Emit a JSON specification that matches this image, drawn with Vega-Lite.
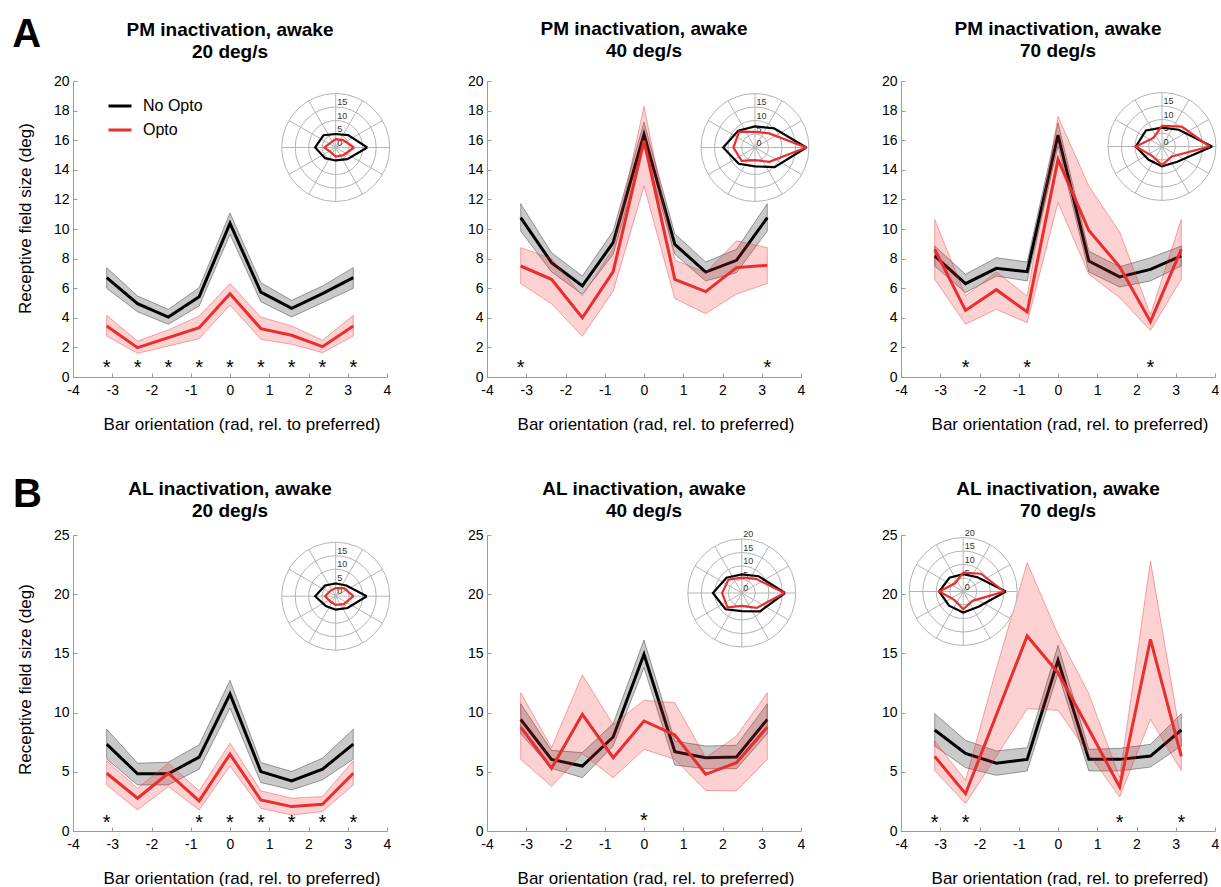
{
"$schema": "https://vega.github.io/schema/vega-lite/v6.json",
"padding": {"left": 12, "top": 14, "right": 0, "bottom": 0},
"background": "white",
"config": {
  "font": "Liberation Sans",
  "view": {"stroke": null},
  "axis": {"grid": false, "domainColor": "#9a9a9a", "domainWidth": 1, "tickColor": "#9a9a9a", "tickSize": -4, "tickWidth": 1, "labelFontSize": 14, "labelColor": "#000000", "titleFontSize": 17, "titleFontWeight": "normal", "titleColor": "#000000", "labelFont": "Liberation Sans", "titleFont": "Liberation Sans", "labelOverlap": false, "labelFlush": false},
  "title": {"fontSize": 19, "fontWeight": "bold", "font": "Liberation Sans", "color": "#000000", "offset": 13, "lineHeight": 22, "frame": "group"}
},
"datasets": {
  "curves": [
    {"p":"A1","c":"No Opto","x":-3.1416,"m":6.71,"lo":5.99,"hi":7.39},
    {"p":"A1","c":"No Opto","x":-2.3562,"m":4.95,"lo":4.41,"hi":5.47},
    {"p":"A1","c":"No Opto","x":-1.5708,"m":4.05,"lo":3.56,"hi":4.57},
    {"p":"A1","c":"No Opto","x":-0.7854,"m":5.43,"lo":4.80,"hi":6.04},
    {"p":"A1","c":"No Opto","x":0,"m":10.38,"lo":9.64,"hi":11.08},
    {"p":"A1","c":"No Opto","x":0.7854,"m":5.74,"lo":5.09,"hi":6.37},
    {"p":"A1","c":"No Opto","x":1.5708,"m":4.64,"lo":4.05,"hi":5.18},
    {"p":"A1","c":"No Opto","x":2.3562,"m":5.63,"lo":5.02,"hi":6.15},
    {"p":"A1","c":"No Opto","x":3.1416,"m":6.71,"lo":5.99,"hi":7.39},
    {"p":"A1","c":"Opto","x":-3.1416,"m":3.45,"lo":2.77,"hi":4.17},
    {"p":"A1","c":"Opto","x":-2.3562,"m":1.98,"lo":1.60,"hi":2.43},
    {"p":"A1","c":"Opto","x":-1.5708,"m":2.66,"lo":2.09,"hi":3.18},
    {"p":"A1","c":"Opto","x":-0.7854,"m":3.33,"lo":2.59,"hi":4.12},
    {"p":"A1","c":"Opto","x":0,"m":5.63,"lo":4.86,"hi":6.31},
    {"p":"A1","c":"Opto","x":0.7854,"m":3.27,"lo":2.55,"hi":4.05},
    {"p":"A1","c":"Opto","x":1.5708,"m":2.82,"lo":2.21,"hi":3.45},
    {"p":"A1","c":"Opto","x":2.3562,"m":2.05,"lo":1.64,"hi":2.48},
    {"p":"A1","c":"Opto","x":3.1416,"m":3.45,"lo":2.77,"hi":4.17},
    {"p":"A2","c":"No Opto","x":-3.1416,"m":10.77,"lo":9.86,"hi":11.71},
    {"p":"A2","c":"No Opto","x":-2.3562,"m":7.73,"lo":7.1,"hi":8.4},
    {"p":"A2","c":"No Opto","x":-1.5708,"m":6.15,"lo":5.59,"hi":6.82},
    {"p":"A2","c":"No Opto","x":-0.7854,"m":9.08,"lo":8.29,"hi":9.86},
    {"p":"A2","c":"No Opto","x":0,"m":16.4,"lo":15.6,"hi":17.23},
    {"p":"A2","c":"No Opto","x":0.7854,"m":8.96,"lo":8.29,"hi":9.68},
    {"p":"A2","c":"No Opto","x":1.5708,"m":7.09,"lo":6.49,"hi":7.77},
    {"p":"A2","c":"No Opto","x":2.3562,"m":7.88,"lo":7.05,"hi":8.63},
    {"p":"A2","c":"No Opto","x":3.1416,"m":10.77,"lo":9.86,"hi":11.71},
    {"p":"A2","c":"Opto","x":-3.1416,"m":7.5,"lo":6.31,"hi":8.74},
    {"p":"A2","c":"Opto","x":-2.3562,"m":6.6,"lo":4.95,"hi":8.0},
    {"p":"A2","c":"Opto","x":-1.5708,"m":4.0,"lo":2.75,"hi":5.47},
    {"p":"A2","c":"Opto","x":-0.7854,"m":7.12,"lo":5.8,"hi":8.7},
    {"p":"A2","c":"Opto","x":0,"m":15.95,"lo":12.9,"hi":18.3},
    {"p":"A2","c":"Opto","x":0.7854,"m":6.6,"lo":5.3,"hi":7.9},
    {"p":"A2","c":"Opto","x":1.5708,"m":5.77,"lo":4.28,"hi":7.05},
    {"p":"A2","c":"Opto","x":2.3562,"m":7.39,"lo":5.6,"hi":9.2},
    {"p":"A2","c":"Opto","x":3.1416,"m":7.55,"lo":6.31,"hi":8.74},
    {"p":"A3","c":"No Opto","x":-3.1416,"m":8.18,"lo":7.5,"hi":8.85},
    {"p":"A3","c":"No Opto","x":-2.3562,"m":6.31,"lo":5.7,"hi":6.94},
    {"p":"A3","c":"No Opto","x":-1.5708,"m":7.34,"lo":6.82,"hi":8.06},
    {"p":"A3","c":"No Opto","x":-0.7854,"m":7.12,"lo":6.49,"hi":7.77},
    {"p":"A3","c":"No Opto","x":0,"m":16.35,"lo":15.6,"hi":17.18},
    {"p":"A3","c":"No Opto","x":0.7854,"m":7.84,"lo":7.1,"hi":8.5},
    {"p":"A3","c":"No Opto","x":1.5708,"m":6.76,"lo":6.08,"hi":7.45},
    {"p":"A3","c":"No Opto","x":2.3562,"m":7.27,"lo":6.49,"hi":8.06},
    {"p":"A3","c":"No Opto","x":3.1416,"m":8.18,"lo":7.5,"hi":8.85},
    {"p":"A3","c":"Opto","x":-3.1416,"m":8.63,"lo":6.6,"hi":10.65},
    {"p":"A3","c":"Opto","x":-2.3562,"m":4.5,"lo":3.56,"hi":5.47},
    {"p":"A3","c":"Opto","x":-1.5708,"m":5.9,"lo":4.57,"hi":7.1},
    {"p":"A3","c":"Opto","x":-0.7854,"m":4.39,"lo":3.67,"hi":5.47},
    {"p":"A3","c":"Opto","x":0,"m":14.7,"lo":11.8,"hi":17.6},
    {"p":"A3","c":"Opto","x":0.7854,"m":9.9,"lo":6.94,"hi":12.9},
    {"p":"A3","c":"Opto","x":1.5708,"m":7.45,"lo":5.36,"hi":9.8},
    {"p":"A3","c":"Opto","x":2.3562,"m":3.74,"lo":3.15,"hi":4.23},
    {"p":"A3","c":"Opto","x":3.1416,"m":8.63,"lo":6.6,"hi":10.65},
    {"p":"B1","c":"No Opto","x":-3.1416,"m":7.34,"lo":6.07,"hi":8.6},
    {"p":"B1","c":"No Opto","x":-2.3562,"m":4.83,"lo":3.89,"hi":5.73},
    {"p":"B1","c":"No Opto","x":-1.5708,"m":4.83,"lo":3.89,"hi":5.81},
    {"p":"B1","c":"No Opto","x":-0.7854,"m":6.24,"lo":5.22,"hi":7.28},
    {"p":"B1","c":"No Opto","x":0,"m":11.57,"lo":10.38,"hi":12.73},
    {"p":"B1","c":"No Opto","x":0.7854,"m":5.02,"lo":4.09,"hi":5.78},
    {"p":"B1","c":"No Opto","x":1.5708,"m":4.23,"lo":3.47,"hi":5.02},
    {"p":"B1","c":"No Opto","x":2.3562,"m":5.22,"lo":4.32,"hi":6.15},
    {"p":"B1","c":"No Opto","x":3.1416,"m":7.34,"lo":6.07,"hi":8.6},
    {"p":"B1","c":"Opto","x":-3.1416,"m":4.88,"lo":3.89,"hi":5.93},
    {"p":"B1","c":"Opto","x":-2.3562,"m":2.77,"lo":1.78,"hi":3.61},
    {"p":"B1","c":"Opto","x":-1.5708,"m":4.88,"lo":3.75,"hi":5.73},
    {"p":"B1","c":"Opto","x":-0.7854,"m":2.54,"lo":1.78,"hi":3.39},
    {"p":"B1","c":"Opto","x":0,"m":6.49,"lo":5.5,"hi":7.42},
    {"p":"B1","c":"Opto","x":0.7854,"m":2.62,"lo":1.92,"hi":3.39},
    {"p":"B1","c":"Opto","x":1.5708,"m":2.06,"lo":1.35,"hi":2.77},
    {"p":"B1","c":"Opto","x":2.3562,"m":2.26,"lo":1.64,"hi":2.91},
    {"p":"B1","c":"Opto","x":3.1416,"m":4.88,"lo":3.89,"hi":5.93},
    {"p":"B2","c":"No Opto","x":-3.1416,"m":9.43,"lo":8.22,"hi":10.75},
    {"p":"B2","c":"No Opto","x":-2.3562,"m":6.05,"lo":5.29,"hi":6.81},
    {"p":"B2","c":"No Opto","x":-1.5708,"m":5.49,"lo":4.5,"hi":6.62},
    {"p":"B2","c":"No Opto","x":-0.7854,"m":7.94,"lo":7.18,"hi":9.07},
    {"p":"B2","c":"No Opto","x":0,"m":14.92,"lo":13.8,"hi":16.13},
    {"p":"B2","c":"No Opto","x":0.7854,"m":6.7,"lo":5.57,"hi":7.6},
    {"p":"B2","c":"No Opto","x":1.5708,"m":6.19,"lo":5.26,"hi":7.18},
    {"p":"B2","c":"No Opto","x":2.3562,"m":6.25,"lo":5.26,"hi":7.24},
    {"p":"B2","c":"No Opto","x":3.1416,"m":9.43,"lo":8.22,"hi":10.75},
    {"p":"B2","c":"Opto","x":-3.1416,"m":8.78,"lo":6.05,"hi":11.68},
    {"p":"B2","c":"Opto","x":-2.3562,"m":5.29,"lo":3.77,"hi":7.04},
    {"p":"B2","c":"Opto","x":-1.5708,"m":9.85,"lo":6.53,"hi":13.18},
    {"p":"B2","c":"Opto","x":-0.7854,"m":6.19,"lo":4.5,"hi":9.0},
    {"p":"B2","c":"Opto","x":0,"m":9.29,"lo":6.9,"hi":11.04},
    {"p":"B2","c":"Opto","x":0.7854,"m":8.11,"lo":6.05,"hi":10.84},
    {"p":"B2","c":"Opto","x":1.5708,"m":4.79,"lo":3.43,"hi":6.19},
    {"p":"B2","c":"Opto","x":2.3562,"m":5.77,"lo":3.38,"hi":8.02},
    {"p":"B2","c":"Opto","x":3.1416,"m":8.78,"lo":6.05,"hi":11.68},
    {"p":"B3","c":"No Opto","x":-3.1416,"m":8.53,"lo":7.18,"hi":9.91},
    {"p":"B3","c":"No Opto","x":-2.3562,"m":6.56,"lo":5.35,"hi":7.66},
    {"p":"B3","c":"No Opto","x":-1.5708,"m":5.72,"lo":4.7,"hi":6.76},
    {"p":"B3","c":"No Opto","x":-0.7854,"m":6.05,"lo":5.07,"hi":7.04},
    {"p":"B3","c":"No Opto","x":0,"m":14.41,"lo":13.32,"hi":15.68},
    {"p":"B3","c":"No Opto","x":0.7854,"m":6.05,"lo":5.07,"hi":6.9},
    {"p":"B3","c":"No Opto","x":1.5708,"m":6.05,"lo":5.07,"hi":6.98},
    {"p":"B3","c":"No Opto","x":2.3562,"m":6.33,"lo":5.4,"hi":7.32},
    {"p":"B3","c":"No Opto","x":3.1416,"m":8.53,"lo":7.18,"hi":9.91},
    {"p":"B3","c":"Opto","x":-3.1416,"m":6.3,"lo":5.1,"hi":7.6},
    {"p":"B3","c":"Opto","x":-2.3562,"m":3.15,"lo":2.31,"hi":4.28},
    {"p":"B3","c":"Opto","x":-1.5708,"m":9.8,"lo":6.3,"hi":13.7},
    {"p":"B3","c":"Opto","x":-0.7854,"m":16.47,"lo":10.33,"hi":22.66},
    {"p":"B3","c":"Opto","x":0,"m":13.37,"lo":10.19,"hi":16.6},
    {"p":"B3","c":"Opto","x":0.7854,"m":8.6,"lo":6.5,"hi":11.6},
    {"p":"B3","c":"Opto","x":1.5708,"m":3.72,"lo":2.87,"hi":4.5},
    {"p":"B3","c":"Opto","x":2.3562,"m":16.19,"lo":9.43,"hi":22.8},
    {"p":"B3","c":"Opto","x":3.1416,"m":6.3,"lo":5.1,"hi":7.6}
  ],
  "stars": [
    {"p":"A1","x":-3.1416},{"p":"A1","x":-2.3562},{"p":"A1","x":-1.5708},{"p":"A1","x":-0.7854},{"p":"A1","x":0},{"p":"A1","x":0.7854},{"p":"A1","x":1.5708},{"p":"A1","x":2.3562},{"p":"A1","x":3.1416},
    {"p":"A2","x":-3.1416},{"p":"A2","x":3.1416},
    {"p":"A3","x":-2.3562},{"p":"A3","x":-0.7854},{"p":"A3","x":2.3562},
    {"p":"B1","x":-3.1416},{"p":"B1","x":-0.7854},{"p":"B1","x":0},{"p":"B1","x":0.7854},{"p":"B1","x":1.5708},{"p":"B1","x":2.3562},{"p":"B1","x":3.1416},
    {"p":"B2","x":0},
    {"p":"B3","x":-3.1416},{"p":"B3","x":-2.3562},{"p":"B3","x":1.5708},{"p":"B3","x":3.1416}
  ],
  "rings": [{"r":20},{"r":15},{"r":10},{"r":5}],
  "spokes": [
    {"x":20,"y":0,"x2":-20,"y2":0},
    {"x":17.32,"y":10,"x2":-17.32,"y2":-10},
    {"x":10,"y":17.32,"x2":-10,"y2":-17.32},
    {"x":0,"y":20,"x2":0,"y2":-20},
    {"x":-10,"y":17.32,"x2":10,"y2":-17.32},
    {"x":-17.32,"y":10,"x2":17.32,"y2":-10}
  ],
  "ringlabels": [{"t":"0","r":0},{"t":"5","r":5},{"t":"10","r":10},{"t":"15","r":15},{"t":"20","r":20}],
  "tags": [{"p":"A1","t":"A"},{"p":"B1","t":"B"}],
  "poly": [
    {"p":"A1","c":"No Opto","k":0,"x":11.7,"y":0},{"p":"A1","c":"No Opto","k":1,"x":4.6,"y":4.6},{"p":"A1","c":"No Opto","k":2,"x":0,"y":5.0},{"p":"A1","c":"No Opto","k":3,"x":-4.53,"y":4.53},{"p":"A1","c":"No Opto","k":4,"x":-7.6,"y":0},{"p":"A1","c":"No Opto","k":5,"x":-3.96,"y":-3.96},{"p":"A1","c":"No Opto","k":6,"x":0,"y":-4.8},{"p":"A1","c":"No Opto","k":7,"x":4.31,"y":-4.31},{"p":"A1","c":"No Opto","k":8,"x":11.7,"y":0},
    {"p":"A1","c":"Opto","k":0,"x":6.8,"y":0},{"p":"A1","c":"Opto","k":1,"x":2.76,"y":2.76},{"p":"A1","c":"Opto","k":2,"x":0,"y":3.1},{"p":"A1","c":"Opto","k":3,"x":-1.84,"y":1.84},{"p":"A1","c":"Opto","k":4,"x":-4.2,"y":0},{"p":"A1","c":"Opto","k":5,"x":-1.77,"y":-1.77},{"p":"A1","c":"Opto","k":6,"x":0,"y":-3.4},{"p":"A1","c":"Opto","k":7,"x":2.83,"y":-2.83},{"p":"A1","c":"Opto","k":8,"x":6.8,"y":0},
    {"p":"A2","c":"No Opto","k":0,"x":19,"y":0},{"p":"A2","c":"No Opto","k":1,"x":7.07,"y":7.07},{"p":"A2","c":"No Opto","k":2,"x":0,"y":7.8},{"p":"A2","c":"No Opto","k":3,"x":-6.22,"y":6.22},{"p":"A2","c":"No Opto","k":4,"x":-11.8,"y":0},{"p":"A2","c":"No Opto","k":5,"x":-6.01,"y":-6.01},{"p":"A2","c":"No Opto","k":6,"x":0,"y":-7.0},{"p":"A2","c":"No Opto","k":7,"x":7.28,"y":-7.28},{"p":"A2","c":"No Opto","k":8,"x":19,"y":0},
    {"p":"A2","c":"Opto","k":0,"x":19,"y":0},{"p":"A2","c":"Opto","k":1,"x":5.23,"y":5.23},{"p":"A2","c":"Opto","k":2,"x":0,"y":5.8},{"p":"A2","c":"Opto","k":3,"x":-5.87,"y":5.87},{"p":"A2","c":"Opto","k":4,"x":-8.0,"y":0},{"p":"A2","c":"Opto","k":5,"x":-4.95,"y":-4.95},{"p":"A2","c":"Opto","k":6,"x":0,"y":-4.7},{"p":"A2","c":"Opto","k":7,"x":5.3,"y":-5.3},{"p":"A2","c":"Opto","k":8,"x":19,"y":0},
    {"p":"A3","c":"No Opto","k":0,"x":18.6,"y":0},{"p":"A3","c":"No Opto","k":1,"x":6.22,"y":6.22},{"p":"A3","c":"No Opto","k":2,"x":0,"y":7.0},{"p":"A3","c":"No Opto","k":3,"x":-5.94,"y":5.94},{"p":"A3","c":"No Opto","k":4,"x":-9.7,"y":0},{"p":"A3","c":"No Opto","k":5,"x":-4.95,"y":-4.95},{"p":"A3","c":"No Opto","k":6,"x":0,"y":-7.3},{"p":"A3","c":"No Opto","k":7,"x":5.66,"y":-5.66},{"p":"A3","c":"No Opto","k":8,"x":18.6,"y":0},
    {"p":"A3","c":"Opto","k":0,"x":17.6,"y":0},{"p":"A3","c":"Opto","k":1,"x":7.35,"y":7.35},{"p":"A3","c":"Opto","k":2,"x":0,"y":7.6},{"p":"A3","c":"Opto","k":3,"x":-3.18,"y":3.18},{"p":"A3","c":"Opto","k":4,"x":-9.7,"y":0},{"p":"A3","c":"Opto","k":5,"x":-3.54,"y":-3.54},{"p":"A3","c":"Opto","k":6,"x":0,"y":-6.9},{"p":"A3","c":"Opto","k":7,"x":3.68,"y":-3.68},{"p":"A3","c":"Opto","k":8,"x":17.6,"y":0},
    {"p":"B1","c":"No Opto","k":0,"x":11.5,"y":0},{"p":"B1","c":"No Opto","k":1,"x":3.96,"y":3.96},{"p":"B1","c":"No Opto","k":2,"x":0,"y":4.7},{"p":"B1","c":"No Opto","k":3,"x":-3.96,"y":3.96},{"p":"B1","c":"No Opto","k":4,"x":-7.6,"y":0},{"p":"B1","c":"No Opto","k":5,"x":-3.68,"y":-3.68},{"p":"B1","c":"No Opto","k":6,"x":0,"y":-5.0},{"p":"B1","c":"No Opto","k":7,"x":4.38,"y":-4.38},{"p":"B1","c":"No Opto","k":8,"x":11.5,"y":0},
    {"p":"B1","c":"Opto","k":0,"x":6.6,"y":0},{"p":"B1","c":"Opto","k":1,"x":2.97,"y":2.97},{"p":"B1","c":"Opto","k":2,"x":0,"y":3.0},{"p":"B1","c":"Opto","k":3,"x":-1.98,"y":1.98},{"p":"B1","c":"Opto","k":4,"x":-3.9,"y":0},{"p":"B1","c":"Opto","k":5,"x":-1.98,"y":-1.98},{"p":"B1","c":"Opto","k":6,"x":0,"y":-3.2},{"p":"B1","c":"Opto","k":7,"x":2.97,"y":-2.97},{"p":"B1","c":"Opto","k":8,"x":6.6,"y":0},
    {"p":"B2","c":"No Opto","k":0,"x":16,"y":0},{"p":"B2","c":"No Opto","k":1,"x":6.22,"y":6.22},{"p":"B2","c":"No Opto","k":2,"x":0,"y":6.9},{"p":"B2","c":"No Opto","k":3,"x":-5.66,"y":5.66},{"p":"B2","c":"No Opto","k":4,"x":-10.7,"y":0},{"p":"B2","c":"No Opto","k":5,"x":-6.01,"y":-6.01},{"p":"B2","c":"No Opto","k":6,"x":0,"y":-6.7},{"p":"B2","c":"No Opto","k":7,"x":6.79,"y":-6.79},{"p":"B2","c":"No Opto","k":8,"x":16,"y":0},
    {"p":"B2","c":"Opto","k":0,"x":15.8,"y":0},{"p":"B2","c":"Opto","k":1,"x":5.23,"y":5.23},{"p":"B2","c":"Opto","k":2,"x":0,"y":5.7},{"p":"B2","c":"Opto","k":3,"x":-4.95,"y":4.95},{"p":"B2","c":"Opto","k":4,"x":-7.3,"y":0},{"p":"B2","c":"Opto","k":5,"x":-5.3,"y":-5.3},{"p":"B2","c":"Opto","k":6,"x":0,"y":-4.8},{"p":"B2","c":"Opto","k":7,"x":5.52,"y":-5.52},{"p":"B2","c":"Opto","k":8,"x":15.8,"y":0},
    {"p":"B3","c":"No Opto","k":0,"x":15.8,"y":0},{"p":"B3","c":"No Opto","k":1,"x":5.3,"y":5.3},{"p":"B3","c":"No Opto","k":2,"x":0,"y":6.4},{"p":"B3","c":"No Opto","k":3,"x":-5.09,"y":5.09},{"p":"B3","c":"No Opto","k":4,"x":-8.9,"y":0},{"p":"B3","c":"No Opto","k":5,"x":-5.23,"y":-5.23},{"p":"B3","c":"No Opto","k":6,"x":0,"y":-7.8},{"p":"B3","c":"No Opto","k":7,"x":5.66,"y":-5.66},{"p":"B3","c":"No Opto","k":8,"x":15.8,"y":0},
    {"p":"B3","c":"Opto","k":0,"x":15.2,"y":0},{"p":"B3","c":"Opto","k":1,"x":6.58,"y":6.58},{"p":"B3","c":"Opto","k":2,"x":0,"y":7.0},{"p":"B3","c":"Opto","k":3,"x":-3.04,"y":3.04},{"p":"B3","c":"Opto","k":4,"x":-8.8,"y":0},{"p":"B3","c":"Opto","k":5,"x":-3.18,"y":-3.18},{"p":"B3","c":"Opto","k":6,"x":0,"y":-6.6},{"p":"B3","c":"Opto","k":7,"x":3.46,"y":-3.46},{"p":"B3","c":"Opto","k":8,"x":15.2,"y":0}
  ]
},
"columns": 3,
"spacing": {"row": 158, "column": 100},
"bounds": "flush",
"resolve": {"scale": {"color": "independent"}, "legend": {"color": "independent"}},
"concat": [
{
  "width": 314, "height": 296,
  "title": {"text": ["PM inactivation, awake", "20 deg/s"], "offset": -47},
  "resolve": {"scale": {"x": "independent", "y": "independent"}},
  "layer": [
    {"layer": [
      {"data": {"name": "curves"}, "transform": [{"filter": "datum.p === 'A1' && datum.c === 'No Opto'"}],
       "mark": {"type": "area", "fill": "#000000", "fillOpacity": 0.21, "stroke": "#000000", "strokeOpacity": 0.45, "strokeWidth": 0.8},
       "encoding": {
         "x": {"field": "x", "type": "quantitative", "scale": {"domain": [-4, 4], "nice": false, "zero": false}, "axis": {"values": [-4,-3,-2,-1,0,1,2,3,4], "tickCount": 9, "labelOverlap": false, "labelExpr": "datum.value < 0 ? '-' + abs(datum.value) : '' + datum.value", "title": "Bar orientation (rad, rel. to preferred)", "labelPadding": 10, "titlePadding": 19, "titleX": 168.5}},
         "y": {"field": "hi", "type": "quantitative", "scale": {"domain": [0, 20], "nice": false, "zero": false}, "axis": {"values": [0,2,4,6,8,10,12,14,16,18,20], "tickCount": 11, "labelOverlap": false, "title": "Receptive field size (deg)", "labelPadding": 8, "titlePadding": 19, "titleY": 137}},
         "y2": {"field": "lo"}}},
      {"data": {"name": "curves"}, "transform": [{"filter": "datum.p === 'A1' && datum.c === 'No Opto'"}],
       "mark": {"type": "line", "strokeWidth": 3},
       "encoding": {
         "x": {"field": "x", "type": "quantitative"},
         "y": {"field": "m", "type": "quantitative"},
         "color": {"field": "c", "type": "nominal", "scale": {"domain": ["No Opto", "Opto"], "range": ["#000000", "#eb2d2e"]}, "legend": {"orient": "none", "legendX": 34, "legendY": 12, "title": null, "symbolType": "stroke", "symbolStrokeWidth": 3, "symbolSize": 529, "labelFontSize": 16, "labelFont": "Liberation Sans", "labelColor": "#000000", "labelOffset": 10, "rowPadding": 3, "padding": 0}}}},
      {"data": {"name": "curves"}, "transform": [{"filter": "datum.p === 'A1' && datum.c === 'Opto'"}],
       "mark": {"type": "area", "fill": "#eb2d2e", "fillOpacity": 0.22, "stroke": "#eb2d2e", "strokeOpacity": 0.5, "strokeWidth": 0.8},
       "encoding": {"x": {"field": "x", "type": "quantitative"}, "y": {"field": "hi", "type": "quantitative"}, "y2": {"field": "lo"}}},
      {"data": {"name": "curves"}, "transform": [{"filter": "datum.p === 'A1' && datum.c === 'Opto'"}],
       "mark": {"type": "line", "strokeWidth": 3},
       "encoding": {
         "x": {"field": "x", "type": "quantitative"},
         "y": {"field": "m", "type": "quantitative"},
         "color": {"field": "c", "type": "nominal", "scale": {"domain": ["No Opto", "Opto"], "range": ["#000000", "#eb2d2e"]}, "legend": {"orient": "none", "legendX": 34, "legendY": 12, "title": null, "symbolType": "stroke", "symbolStrokeWidth": 3, "symbolSize": 529, "labelFontSize": 16, "labelFont": "Liberation Sans", "labelColor": "#000000", "labelOffset": 10, "rowPadding": 3, "padding": 0}}}},
      {"data": {"name": "stars"}, "transform": [{"filter": "datum.p === 'A1'"}],
       "mark": {"type": "text", "text": "*", "fontSize": 20, "baseline": "middle", "align": "center", "dy": 4, "color": "#000000"},
       "encoding": {"x": {"field": "x", "type": "quantitative"}, "y": {"datum": 0.9, "type": "quantitative"}}},
      {"data": {"name": "tags"}, "transform": [{"filter": "datum.p === 'A1'"}],
       "mark": {"type": "text", "fontSize": 40, "fontWeight": "bold", "align": "center", "baseline": "alphabetic", "color": "#000000"},
       "encoding": {"x": {"datum": -5.18, "type": "quantitative"}, "y": {"datum": 22.3, "type": "quantitative"}, "text": {"field": "t"}}}
    ]},
    {"layer": [
      {"data": {"name": "rings"}, "mark": {"type": "point", "shape": "circle", "filled": true, "fill": "#ffffff", "stroke": "#b4b4b4", "strokeWidth": 1, "opacity": 1, "fillOpacity": 1, "strokeOpacity": 1},
       "encoding": {"x": {"datum": 0, "type": "quantitative", "scale": {"domain": [-20, 20], "range": [208.7, 316.7], "nice": false, "zero": false}, "axis": null},
                    "y": {"datum": 0, "type": "quantitative", "scale": {"domain": [-20, 20], "range": [120.5, 12.5], "nice": false, "zero": false}, "axis": null},
                    "size": {"field": "r", "type": "quantitative", "scale": {"type": "pow", "exponent": 2, "domain": [0, 20], "range": [0, 11664]}, "legend": null}}},
      {"data": {"name": "spokes"}, "mark": {"type": "rule", "stroke": "#b4b4b4", "strokeWidth": 1},
       "encoding": {"x": {"field": "x", "type": "quantitative", "axis": null}, "y": {"field": "y", "type": "quantitative", "axis": null}, "x2": {"field": "x2"}, "y2": {"field": "y2"}}},
      {"data": {"name": "ringlabels"}, "transform": [{"filter": "datum.r <= 15"}], "mark": {"type": "text", "align": "left", "baseline": "bottom", "dx": 1.5, "fontSize": 9, "color": "#333333"},
       "encoding": {"x": {"datum": 0, "type": "quantitative", "axis": null}, "y": {"field": "r", "type": "quantitative", "axis": null}, "text": {"field": "t"}}},
      {"data": {"name": "poly"}, "transform": [{"filter": "datum.p === 'A1' && datum.c === 'No Opto'"}], "mark": {"type": "line", "color": "#000000", "strokeWidth": 2.2},
       "encoding": {"x": {"field": "x", "type": "quantitative", "axis": null}, "y": {"field": "y", "type": "quantitative", "axis": null}, "order": {"field": "k"}}},
      {"data": {"name": "poly"}, "transform": [{"filter": "datum.p === 'A1' && datum.c === 'Opto'"}], "mark": {"type": "line", "color": "#eb2d2e", "strokeWidth": 2.2},
       "encoding": {"x": {"field": "x", "type": "quantitative", "axis": null}, "y": {"field": "y", "type": "quantitative", "axis": null}, "order": {"field": "k"}}}
    ]}
  ]
},
{
  "width": 314, "height": 296,
  "title": {"text": ["PM inactivation, awake", "40 deg/s"]},
  "resolve": {"scale": {"x": "independent", "y": "independent"}},
  "layer": [
    {"layer": [
      {"data": {"name": "curves"}, "transform": [{"filter": "datum.p === 'A2' && datum.c === 'No Opto'"}],
       "mark": {"type": "area", "fill": "#000000", "fillOpacity": 0.21, "stroke": "#000000", "strokeOpacity": 0.45, "strokeWidth": 0.8},
       "encoding": {
         "x": {"field": "x", "type": "quantitative", "scale": {"domain": [-4, 4], "nice": false, "zero": false}, "axis": {"values": [-4,-3,-2,-1,0,1,2,3,4], "tickCount": 9, "labelOverlap": false, "labelExpr": "datum.value < 0 ? '-' + abs(datum.value) : '' + datum.value", "title": "Bar orientation (rad, rel. to preferred)", "labelPadding": 10, "titlePadding": 19, "titleX": 168.5}},
         "y": {"field": "hi", "type": "quantitative", "scale": {"domain": [0, 20], "nice": false, "zero": false}, "axis": {"values": [0,2,4,6,8,10,12,14,16,18,20], "tickCount": 11, "labelOverlap": false, "title": null, "labelPadding": 8}},
         "y2": {"field": "lo"}}},
      {"data": {"name": "curves"}, "transform": [{"filter": "datum.p === 'A2' && datum.c === 'No Opto'"}],
       "mark": {"type": "line", "strokeWidth": 3, "color": "#000000"},
       "encoding": {"x": {"field": "x", "type": "quantitative"}, "y": {"field": "m", "type": "quantitative"}}},
      {"data": {"name": "curves"}, "transform": [{"filter": "datum.p === 'A2' && datum.c === 'Opto'"}],
       "mark": {"type": "area", "fill": "#eb2d2e", "fillOpacity": 0.22, "stroke": "#eb2d2e", "strokeOpacity": 0.5, "strokeWidth": 0.8},
       "encoding": {"x": {"field": "x", "type": "quantitative"}, "y": {"field": "hi", "type": "quantitative"}, "y2": {"field": "lo"}}},
      {"data": {"name": "curves"}, "transform": [{"filter": "datum.p === 'A2' && datum.c === 'Opto'"}],
       "mark": {"type": "line", "strokeWidth": 3, "color": "#eb2d2e"},
       "encoding": {"x": {"field": "x", "type": "quantitative"}, "y": {"field": "m", "type": "quantitative"}}},
      {"data": {"name": "stars"}, "transform": [{"filter": "datum.p === 'A2'"}],
       "mark": {"type": "text", "text": "*", "fontSize": 20, "baseline": "middle", "align": "center", "dy": 4, "color": "#000000"},
       "encoding": {"x": {"field": "x", "type": "quantitative"}, "y": {"datum": 0.9, "type": "quantitative"}}}
    ]},
    {"layer": [
      {"data": {"name": "rings"}, "mark": {"type": "point", "shape": "circle", "filled": true, "fill": "#ffffff", "stroke": "#b4b4b4", "strokeWidth": 1, "opacity": 1, "fillOpacity": 1, "strokeOpacity": 1},
       "encoding": {"x": {"datum": 0, "type": "quantitative", "scale": {"domain": [-20, 20], "range": [214, 322], "nice": false, "zero": false}, "axis": null},
                    "y": {"datum": 0, "type": "quantitative", "scale": {"domain": [-20, 20], "range": [120.5, 12.5], "nice": false, "zero": false}, "axis": null},
                    "size": {"field": "r", "type": "quantitative", "scale": {"type": "pow", "exponent": 2, "domain": [0, 20], "range": [0, 11664]}, "legend": null}}},
      {"data": {"name": "spokes"}, "mark": {"type": "rule", "stroke": "#b4b4b4", "strokeWidth": 1},
       "encoding": {"x": {"field": "x", "type": "quantitative", "axis": null}, "y": {"field": "y", "type": "quantitative", "axis": null}, "x2": {"field": "x2"}, "y2": {"field": "y2"}}},
      {"data": {"name": "ringlabels"}, "transform": [{"filter": "datum.r <= 15"}], "mark": {"type": "text", "align": "left", "baseline": "bottom", "dx": 1.5, "fontSize": 9, "color": "#333333"},
       "encoding": {"x": {"datum": 0, "type": "quantitative", "axis": null}, "y": {"field": "r", "type": "quantitative", "axis": null}, "text": {"field": "t"}}},
      {"data": {"name": "poly"}, "transform": [{"filter": "datum.p === 'A2' && datum.c === 'No Opto'"}], "mark": {"type": "line", "color": "#000000", "strokeWidth": 2.2},
       "encoding": {"x": {"field": "x", "type": "quantitative", "axis": null}, "y": {"field": "y", "type": "quantitative", "axis": null}, "order": {"field": "k"}}},
      {"data": {"name": "poly"}, "transform": [{"filter": "datum.p === 'A2' && datum.c === 'Opto'"}], "mark": {"type": "line", "color": "#eb2d2e", "strokeWidth": 2.2},
       "encoding": {"x": {"field": "x", "type": "quantitative", "axis": null}, "y": {"field": "y", "type": "quantitative", "axis": null}, "order": {"field": "k"}}}
    ]}
  ]
},
{
  "width": 314, "height": 296,
  "title": {"text": ["PM inactivation, awake", "70 deg/s"]},
  "resolve": {"scale": {"x": "independent", "y": "independent"}},
  "layer": [
    {"layer": [
      {"data": {"name": "curves"}, "transform": [{"filter": "datum.p === 'A3' && datum.c === 'No Opto'"}],
       "mark": {"type": "area", "fill": "#000000", "fillOpacity": 0.21, "stroke": "#000000", "strokeOpacity": 0.45, "strokeWidth": 0.8},
       "encoding": {
         "x": {"field": "x", "type": "quantitative", "scale": {"domain": [-4, 4], "nice": false, "zero": false}, "axis": {"values": [-4,-3,-2,-1,0,1,2,3,4], "tickCount": 9, "labelOverlap": false, "labelExpr": "datum.value < 0 ? '-' + abs(datum.value) : '' + datum.value", "title": "Bar orientation (rad, rel. to preferred)", "labelPadding": 10, "titlePadding": 19, "titleX": 168.5}},
         "y": {"field": "hi", "type": "quantitative", "scale": {"domain": [0, 20], "nice": false, "zero": false}, "axis": {"values": [0,2,4,6,8,10,12,14,16,18,20], "tickCount": 11, "labelOverlap": false, "title": null, "labelPadding": 8}},
         "y2": {"field": "lo"}}},
      {"data": {"name": "curves"}, "transform": [{"filter": "datum.p === 'A3' && datum.c === 'No Opto'"}],
       "mark": {"type": "line", "strokeWidth": 3, "color": "#000000"},
       "encoding": {"x": {"field": "x", "type": "quantitative"}, "y": {"field": "m", "type": "quantitative"}}},
      {"data": {"name": "curves"}, "transform": [{"filter": "datum.p === 'A3' && datum.c === 'Opto'"}],
       "mark": {"type": "area", "fill": "#eb2d2e", "fillOpacity": 0.22, "stroke": "#eb2d2e", "strokeOpacity": 0.5, "strokeWidth": 0.8},
       "encoding": {"x": {"field": "x", "type": "quantitative"}, "y": {"field": "hi", "type": "quantitative"}, "y2": {"field": "lo"}}},
      {"data": {"name": "curves"}, "transform": [{"filter": "datum.p === 'A3' && datum.c === 'Opto'"}],
       "mark": {"type": "line", "strokeWidth": 3, "color": "#eb2d2e"},
       "encoding": {"x": {"field": "x", "type": "quantitative"}, "y": {"field": "m", "type": "quantitative"}}},
      {"data": {"name": "stars"}, "transform": [{"filter": "datum.p === 'A3'"}],
       "mark": {"type": "text", "text": "*", "fontSize": 20, "baseline": "middle", "align": "center", "dy": 4, "color": "#000000"},
       "encoding": {"x": {"field": "x", "type": "quantitative"}, "y": {"datum": 0.9, "type": "quantitative"}}}
    ]},
    {"layer": [
      {"data": {"name": "rings"}, "mark": {"type": "point", "shape": "circle", "filled": true, "fill": "#ffffff", "stroke": "#b4b4b4", "strokeWidth": 1, "opacity": 1, "fillOpacity": 1, "strokeOpacity": 1},
       "encoding": {"x": {"datum": 0, "type": "quantitative", "scale": {"domain": [-20, 20], "range": [207, 315], "nice": false, "zero": false}, "axis": null},
                    "y": {"datum": 0, "type": "quantitative", "scale": {"domain": [-20, 20], "range": [119.5, 11.5], "nice": false, "zero": false}, "axis": null},
                    "size": {"field": "r", "type": "quantitative", "scale": {"type": "pow", "exponent": 2, "domain": [0, 20], "range": [0, 11664]}, "legend": null}}},
      {"data": {"name": "spokes"}, "mark": {"type": "rule", "stroke": "#b4b4b4", "strokeWidth": 1},
       "encoding": {"x": {"field": "x", "type": "quantitative", "axis": null}, "y": {"field": "y", "type": "quantitative", "axis": null}, "x2": {"field": "x2"}, "y2": {"field": "y2"}}},
      {"data": {"name": "ringlabels"}, "transform": [{"filter": "datum.r <= 15"}], "mark": {"type": "text", "align": "left", "baseline": "bottom", "dx": 1.5, "fontSize": 9, "color": "#333333"},
       "encoding": {"x": {"datum": 0, "type": "quantitative", "axis": null}, "y": {"field": "r", "type": "quantitative", "axis": null}, "text": {"field": "t"}}},
      {"data": {"name": "poly"}, "transform": [{"filter": "datum.p === 'A3' && datum.c === 'No Opto'"}], "mark": {"type": "line", "color": "#000000", "strokeWidth": 2.2},
       "encoding": {"x": {"field": "x", "type": "quantitative", "axis": null}, "y": {"field": "y", "type": "quantitative", "axis": null}, "order": {"field": "k"}}},
      {"data": {"name": "poly"}, "transform": [{"filter": "datum.p === 'A3' && datum.c === 'Opto'"}], "mark": {"type": "line", "color": "#eb2d2e", "strokeWidth": 2.2},
       "encoding": {"x": {"field": "x", "type": "quantitative", "axis": null}, "y": {"field": "y", "type": "quantitative", "axis": null}, "order": {"field": "k"}}}
    ]}
  ]
},
{
  "width": 314, "height": 296,
  "title": {"text": ["AL inactivation, awake", "20 deg/s"], "offset": -46},
  "resolve": {"scale": {"x": "independent", "y": "independent"}},
  "layer": [
    {"layer": [
      {"data": {"name": "curves"}, "transform": [{"filter": "datum.p === 'B1' && datum.c === 'No Opto'"}],
       "mark": {"type": "area", "fill": "#000000", "fillOpacity": 0.21, "stroke": "#000000", "strokeOpacity": 0.45, "strokeWidth": 0.8},
       "encoding": {
         "x": {"field": "x", "type": "quantitative", "scale": {"domain": [-4, 4], "nice": false, "zero": false}, "axis": {"values": [-4,-3,-2,-1,0,1,2,3,4], "tickCount": 9, "labelOverlap": false, "labelExpr": "datum.value < 0 ? '-' + abs(datum.value) : '' + datum.value", "title": "Bar orientation (rad, rel. to preferred)", "labelPadding": 10, "titlePadding": 19, "titleX": 168.5}},
         "y": {"field": "hi", "type": "quantitative", "scale": {"domain": [0, 25], "nice": false, "zero": false}, "axis": {"values": [0,5,10,15,20,25], "tickCount": 6, "labelOverlap": false, "title": "Receptive field size (deg)", "labelPadding": 8, "titlePadding": 19, "titleY": 144}},
         "y2": {"field": "lo"}}},
      {"data": {"name": "curves"}, "transform": [{"filter": "datum.p === 'B1' && datum.c === 'No Opto'"}],
       "mark": {"type": "line", "strokeWidth": 3, "color": "#000000"},
       "encoding": {"x": {"field": "x", "type": "quantitative"}, "y": {"field": "m", "type": "quantitative"}}},
      {"data": {"name": "curves"}, "transform": [{"filter": "datum.p === 'B1' && datum.c === 'Opto'"}],
       "mark": {"type": "area", "fill": "#eb2d2e", "fillOpacity": 0.22, "stroke": "#eb2d2e", "strokeOpacity": 0.5, "strokeWidth": 0.8},
       "encoding": {"x": {"field": "x", "type": "quantitative"}, "y": {"field": "hi", "type": "quantitative"}, "y2": {"field": "lo"}}},
      {"data": {"name": "curves"}, "transform": [{"filter": "datum.p === 'B1' && datum.c === 'Opto'"}],
       "mark": {"type": "line", "strokeWidth": 3, "color": "#eb2d2e"},
       "encoding": {"x": {"field": "x", "type": "quantitative"}, "y": {"field": "m", "type": "quantitative"}}},
      {"data": {"name": "stars"}, "transform": [{"filter": "datum.p === 'B1'"}],
       "mark": {"type": "text", "text": "*", "fontSize": 20, "baseline": "middle", "align": "center", "dy": 4, "color": "#000000"},
       "encoding": {"x": {"field": "x", "type": "quantitative"}, "y": {"datum": 1.0, "type": "quantitative"}}},
      {"data": {"name": "tags"}, "transform": [{"filter": "datum.p === 'B1'"}],
       "mark": {"type": "text", "fontSize": 40, "fontWeight": "bold", "align": "center", "baseline": "alphabetic", "color": "#000000"},
       "encoding": {"x": {"datum": -5.16, "type": "quantitative"}, "y": {"datum": 27.4, "type": "quantitative"}, "text": {"field": "t"}}}
    ]},
    {"layer": [
      {"data": {"name": "rings"}, "mark": {"type": "point", "shape": "circle", "filled": true, "fill": "#ffffff", "stroke": "#b4b4b4", "strokeWidth": 1, "opacity": 1, "fillOpacity": 1, "strokeOpacity": 1},
       "encoding": {"x": {"datum": 0, "type": "quantitative", "scale": {"domain": [-20, 20], "range": [208.7, 316.7], "nice": false, "zero": false}, "axis": null},
                    "y": {"datum": 0, "type": "quantitative", "scale": {"domain": [-20, 20], "range": [115.2, 7.2], "nice": false, "zero": false}, "axis": null},
                    "size": {"field": "r", "type": "quantitative", "scale": {"type": "pow", "exponent": 2, "domain": [0, 20], "range": [0, 11664]}, "legend": null}}},
      {"data": {"name": "spokes"}, "mark": {"type": "rule", "stroke": "#b4b4b4", "strokeWidth": 1},
       "encoding": {"x": {"field": "x", "type": "quantitative", "axis": null}, "y": {"field": "y", "type": "quantitative", "axis": null}, "x2": {"field": "x2"}, "y2": {"field": "y2"}}},
      {"data": {"name": "ringlabels"}, "transform": [{"filter": "datum.r <= 15"}], "mark": {"type": "text", "align": "left", "baseline": "bottom", "dx": 1.5, "fontSize": 9, "color": "#333333"},
       "encoding": {"x": {"datum": 0, "type": "quantitative", "axis": null}, "y": {"field": "r", "type": "quantitative", "axis": null}, "text": {"field": "t"}}},
      {"data": {"name": "poly"}, "transform": [{"filter": "datum.p === 'B1' && datum.c === 'No Opto'"}], "mark": {"type": "line", "color": "#000000", "strokeWidth": 2.2},
       "encoding": {"x": {"field": "x", "type": "quantitative", "axis": null}, "y": {"field": "y", "type": "quantitative", "axis": null}, "order": {"field": "k"}}},
      {"data": {"name": "poly"}, "transform": [{"filter": "datum.p === 'B1' && datum.c === 'Opto'"}], "mark": {"type": "line", "color": "#eb2d2e", "strokeWidth": 2.2},
       "encoding": {"x": {"field": "x", "type": "quantitative", "axis": null}, "y": {"field": "y", "type": "quantitative", "axis": null}, "order": {"field": "k"}}}
    ]}
  ]
},
{
  "width": 314, "height": 296,
  "title": {"text": ["AL inactivation, awake", "40 deg/s"], "offset": 7},
  "resolve": {"scale": {"x": "independent", "y": "independent"}},
  "layer": [
    {"layer": [
      {"data": {"name": "curves"}, "transform": [{"filter": "datum.p === 'B2' && datum.c === 'No Opto'"}],
       "mark": {"type": "area", "fill": "#000000", "fillOpacity": 0.21, "stroke": "#000000", "strokeOpacity": 0.45, "strokeWidth": 0.8},
       "encoding": {
         "x": {"field": "x", "type": "quantitative", "scale": {"domain": [-4, 4], "nice": false, "zero": false}, "axis": {"values": [-4,-3,-2,-1,0,1,2,3,4], "tickCount": 9, "labelOverlap": false, "labelExpr": "datum.value < 0 ? '-' + abs(datum.value) : '' + datum.value", "title": "Bar orientation (rad, rel. to preferred)", "labelPadding": 10, "titlePadding": 19, "titleX": 168.5}},
         "y": {"field": "hi", "type": "quantitative", "scale": {"domain": [0, 25], "nice": false, "zero": false}, "axis": {"values": [0,5,10,15,20,25], "tickCount": 6, "labelOverlap": false, "title": null, "labelPadding": 8}},
         "y2": {"field": "lo"}}},
      {"data": {"name": "curves"}, "transform": [{"filter": "datum.p === 'B2' && datum.c === 'No Opto'"}],
       "mark": {"type": "line", "strokeWidth": 3, "color": "#000000"},
       "encoding": {"x": {"field": "x", "type": "quantitative"}, "y": {"field": "m", "type": "quantitative"}}},
      {"data": {"name": "curves"}, "transform": [{"filter": "datum.p === 'B2' && datum.c === 'Opto'"}],
       "mark": {"type": "area", "fill": "#eb2d2e", "fillOpacity": 0.22, "stroke": "#eb2d2e", "strokeOpacity": 0.5, "strokeWidth": 0.8},
       "encoding": {"x": {"field": "x", "type": "quantitative"}, "y": {"field": "hi", "type": "quantitative"}, "y2": {"field": "lo"}}},
      {"data": {"name": "curves"}, "transform": [{"filter": "datum.p === 'B2' && datum.c === 'Opto'"}],
       "mark": {"type": "line", "strokeWidth": 3, "color": "#eb2d2e"},
       "encoding": {"x": {"field": "x", "type": "quantitative"}, "y": {"field": "m", "type": "quantitative"}}},
      {"data": {"name": "stars"}, "transform": [{"filter": "datum.p === 'B2'"}],
       "mark": {"type": "text", "text": "*", "fontSize": 20, "baseline": "middle", "align": "center", "dy": 4, "color": "#000000"},
       "encoding": {"x": {"field": "x", "type": "quantitative"}, "y": {"datum": 1.15, "type": "quantitative"}}}
    ]},
    {"layer": [
      {"data": {"name": "rings"}, "mark": {"type": "point", "shape": "circle", "filled": true, "fill": "#ffffff", "stroke": "#b4b4b4", "strokeWidth": 1, "opacity": 1, "fillOpacity": 1, "strokeOpacity": 1},
       "encoding": {"x": {"datum": 0, "type": "quantitative", "scale": {"domain": [-20, 20], "range": [200.8, 308.8], "nice": false, "zero": false}, "axis": null},
                    "y": {"datum": 0, "type": "quantitative", "scale": {"domain": [-20, 20], "range": [112, 4], "nice": false, "zero": false}, "axis": null},
                    "size": {"field": "r", "type": "quantitative", "scale": {"type": "pow", "exponent": 2, "domain": [0, 20], "range": [0, 11664]}, "legend": null}}},
      {"data": {"name": "spokes"}, "mark": {"type": "rule", "stroke": "#b4b4b4", "strokeWidth": 1},
       "encoding": {"x": {"field": "x", "type": "quantitative", "axis": null}, "y": {"field": "y", "type": "quantitative", "axis": null}, "x2": {"field": "x2"}, "y2": {"field": "y2"}}},
      {"data": {"name": "ringlabels"}, "mark": {"type": "text", "align": "left", "baseline": "bottom", "dx": 1.5, "fontSize": 9, "color": "#333333"},
       "encoding": {"x": {"datum": 0, "type": "quantitative", "axis": null}, "y": {"field": "r", "type": "quantitative", "axis": null}, "text": {"field": "t"}}},
      {"data": {"name": "poly"}, "transform": [{"filter": "datum.p === 'B2' && datum.c === 'No Opto'"}], "mark": {"type": "line", "color": "#000000", "strokeWidth": 2.2},
       "encoding": {"x": {"field": "x", "type": "quantitative", "axis": null}, "y": {"field": "y", "type": "quantitative", "axis": null}, "order": {"field": "k"}}},
      {"data": {"name": "poly"}, "transform": [{"filter": "datum.p === 'B2' && datum.c === 'Opto'"}], "mark": {"type": "line", "color": "#eb2d2e", "strokeWidth": 2.2},
       "encoding": {"x": {"field": "x", "type": "quantitative", "axis": null}, "y": {"field": "y", "type": "quantitative", "axis": null}, "order": {"field": "k"}}}
    ]}
  ]
},
{
  "width": 314, "height": 296,
  "title": {"text": ["AL inactivation, awake", "70 deg/s"], "offset": 7},
  "resolve": {"scale": {"x": "independent", "y": "independent"}},
  "layer": [
    {"layer": [
      {"data": {"name": "curves"}, "transform": [{"filter": "datum.p === 'B3' && datum.c === 'No Opto'"}],
       "mark": {"type": "area", "fill": "#000000", "fillOpacity": 0.21, "stroke": "#000000", "strokeOpacity": 0.45, "strokeWidth": 0.8},
       "encoding": {
         "x": {"field": "x", "type": "quantitative", "scale": {"domain": [-4, 4], "nice": false, "zero": false}, "axis": {"values": [-4,-3,-2,-1,0,1,2,3,4], "tickCount": 9, "labelOverlap": false, "labelExpr": "datum.value < 0 ? '-' + abs(datum.value) : '' + datum.value", "title": "Bar orientation (rad, rel. to preferred)", "labelPadding": 10, "titlePadding": 19, "titleX": 168.5}},
         "y": {"field": "hi", "type": "quantitative", "scale": {"domain": [0, 25], "nice": false, "zero": false}, "axis": {"values": [0,5,10,15,20,25], "tickCount": 6, "labelOverlap": false, "title": null, "labelPadding": 8}},
         "y2": {"field": "lo"}}},
      {"data": {"name": "curves"}, "transform": [{"filter": "datum.p === 'B3' && datum.c === 'No Opto'"}],
       "mark": {"type": "line", "strokeWidth": 3, "color": "#000000"},
       "encoding": {"x": {"field": "x", "type": "quantitative"}, "y": {"field": "m", "type": "quantitative"}}},
      {"data": {"name": "curves"}, "transform": [{"filter": "datum.p === 'B3' && datum.c === 'Opto'"}],
       "mark": {"type": "area", "fill": "#eb2d2e", "fillOpacity": 0.22, "stroke": "#eb2d2e", "strokeOpacity": 0.5, "strokeWidth": 0.8},
       "encoding": {"x": {"field": "x", "type": "quantitative"}, "y": {"field": "hi", "type": "quantitative"}, "y2": {"field": "lo"}}},
      {"data": {"name": "curves"}, "transform": [{"filter": "datum.p === 'B3' && datum.c === 'Opto'"}],
       "mark": {"type": "line", "strokeWidth": 3, "color": "#eb2d2e"},
       "encoding": {"x": {"field": "x", "type": "quantitative"}, "y": {"field": "m", "type": "quantitative"}}},
      {"data": {"name": "stars"}, "transform": [{"filter": "datum.p === 'B3'"}],
       "mark": {"type": "text", "text": "*", "fontSize": 20, "baseline": "middle", "align": "center", "dy": 4, "color": "#000000"},
       "encoding": {"x": {"field": "x", "type": "quantitative"}, "y": {"datum": 1.0, "type": "quantitative"}}}
    ]},
    {"layer": [
      {"data": {"name": "rings"}, "mark": {"type": "point", "shape": "circle", "filled": true, "fill": "#ffffff", "stroke": "#b4b4b4", "strokeWidth": 1, "opacity": 1, "fillOpacity": 1, "strokeOpacity": 1},
       "encoding": {"x": {"datum": 0, "type": "quantitative", "scale": {"domain": [-20, 20], "range": [8.2, 116.2], "nice": false, "zero": false}, "axis": null},
                    "y": {"datum": 0, "type": "quantitative", "scale": {"domain": [-20, 20], "range": [110.5, 2.5], "nice": false, "zero": false}, "axis": null},
                    "size": {"field": "r", "type": "quantitative", "scale": {"type": "pow", "exponent": 2, "domain": [0, 20], "range": [0, 11664]}, "legend": null}}},
      {"data": {"name": "spokes"}, "mark": {"type": "rule", "stroke": "#b4b4b4", "strokeWidth": 1},
       "encoding": {"x": {"field": "x", "type": "quantitative", "axis": null}, "y": {"field": "y", "type": "quantitative", "axis": null}, "x2": {"field": "x2"}, "y2": {"field": "y2"}}},
      {"data": {"name": "ringlabels"}, "mark": {"type": "text", "align": "left", "baseline": "bottom", "dx": 1.5, "fontSize": 9, "color": "#333333"},
       "encoding": {"x": {"datum": 0, "type": "quantitative", "axis": null}, "y": {"field": "r", "type": "quantitative", "axis": null}, "text": {"field": "t"}}},
      {"data": {"name": "poly"}, "transform": [{"filter": "datum.p === 'B3' && datum.c === 'No Opto'"}], "mark": {"type": "line", "color": "#000000", "strokeWidth": 2.2},
       "encoding": {"x": {"field": "x", "type": "quantitative", "axis": null}, "y": {"field": "y", "type": "quantitative", "axis": null}, "order": {"field": "k"}}},
      {"data": {"name": "poly"}, "transform": [{"filter": "datum.p === 'B3' && datum.c === 'Opto'"}], "mark": {"type": "line", "color": "#eb2d2e", "strokeWidth": 2.2},
       "encoding": {"x": {"field": "x", "type": "quantitative", "axis": null}, "y": {"field": "y", "type": "quantitative", "axis": null}, "order": {"field": "k"}}}
    ]}
  ]
}
]
}
